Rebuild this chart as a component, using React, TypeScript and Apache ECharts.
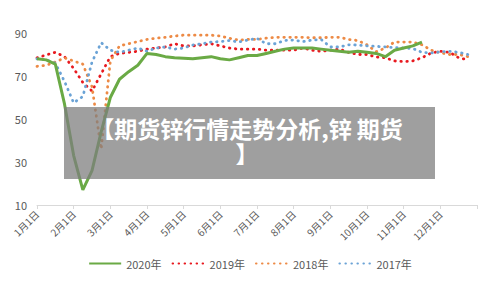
import React, { useEffect, useRef } from "react";
import * as echarts from "echarts";

const categories = [
  "1月1日", "1月8日", "1月16日", "1月24日",
  "2月1日", "2月8日", "2月16日", "2月24日",
  "3月1日", "3月8日", "3月16日", "3月24日",
  "4月1日", "4月8日", "4月16日", "4月24日",
  "5月1日", "5月8日", "5月16日", "5月24日",
  "6月1日", "6月8日", "6月16日", "6月24日",
  "7月1日", "7月8日", "7月16日", "7月24日",
  "8月1日", "8月8日", "8月16日", "8月24日",
  "9月1日", "9月8日", "9月16日", "9月24日",
  "10月1日", "10月8日", "10月16日", "10月24日",
  "11月1日", "11月8日", "11月16日", "11月24日",
  "12月1日", "12月8日", "12月16日", "12月24日",
  "1月1日 ",
];

const s2020 = [78, 77.5, 75.5, 57, 33, 17, 26, 44, 60, 68.5, 72, 75, 80.5, 80, 79, 78.5, 78.3, 78, 78.5, 79, 78, 77.5, 78.5, 79.5, 79.5, 80.5, 81.5, 82.5, 83, 83, 83, 82.5, 82, 81.5, 81, 81.5, 81, 80.5, 79, 82, 83, 84, 85.8];
const s2019 = [78.5, 79.8, 81, 79, 73.5, 67, 63, 71, 79, 80.5, 81, 81.5, 82.5, 83, 83.5, 85, 84, 84, 84.5, 85, 84, 83, 82.5, 82.5, 82.5, 82, 82, 82, 82, 83, 82, 81.5, 82, 82.5, 81, 80, 80, 78.8, 78.5, 77, 76.7, 77, 78.5, 80.7, 81.5, 81, 78.5, 77.5];
const s2018 = [74.5, 75, 76.5, 78.4, 77, 75.5, 65, 36, 77, 84, 85, 86, 87, 87.6, 88, 88.6, 89, 89, 89, 89, 88.6, 87.5, 86.7, 87, 87, 87.6, 88, 88, 88, 88, 87.8, 87.8, 88, 88, 87, 86.5, 84.5, 81.3, 83, 85.8, 85.8, 85.8, 84.5, 82, 80.8, 80, 80, 79];
const s2017 = [78, 77.5, 76, 67.5, 57.5, 60.5, 76.5, 85.5, 82, 81, 82, 83, 81.5, 83, 83.5, 82.5, 83, 84.4, 85, 85.8, 86, 86.5, 85.8, 86.7, 87.5, 85, 85, 86.5, 86.7, 86, 86.7, 87, 83.5, 83.5, 84.5, 84.4, 84, 83.8, 83.5, 83.2, 83, 82.8, 81, 80.7, 81.2, 81.5, 81, 80];

const seriesNames = ["2020年", "2019年", "2018年", "2017年"];
const seriesColors = ["#6aaa45", "#e8191f", "#ed8a45", "#6ba3d6"];
const titleText = "【期货锌行情走势分析,锌 期货\n】";

const FONT = "'Noto Sans CJK SC', 'Noto Sans', sans-serif";

export default function App() {
  const ref = useRef<HTMLDivElement>(null);
  useEffect(() => {
    if (!ref.current) return;
    const chart = echarts.init(ref.current, undefined, { renderer: "svg" });
    const dotted = (color: string) => ({
      color,
      width: 2.8,
      type: [0.5, 5.5] as any,
      cap: "round" as const,
    });
    const datas = [s2020, s2019, s2018, s2017];
    chart.setOption({
      animation: false,
      textStyle: { fontFamily: FONT },
      grid: { left: 37, right: 23, top: 33, bottom: 81, containLabel: false },
      legend: {
        data: seriesNames,
        bottom: 12,
        left: "center",
        itemWidth: 32,
        itemHeight: 10,
        itemGap: 10,
        itemStyle: { opacity: 0 },
        textStyle: { color: "#595959", fontSize: 11, fontFamily: FONT },
      },
      xAxis: {
        type: "category",
        data: categories,
        boundaryGap: false,
        axisLine: { lineStyle: { color: "#d9d9d9", width: 1 } },
        axisTick: {
          show: true,
          interval: (i: number) => i % 4 === 0,
          length: 4,
          lineStyle: { color: "#d9d9d9" },
        },
        axisLabel: {
          interval: (i: number) => i % 4 === 0 && i < 48,
          rotate: 45,
          color: "#595959",
          fontSize: 10,
          margin: 7,
          fontFamily: FONT,
        },
        splitLine: { show: false },
      },
      yAxis: {
        type: "value",
        min: 10,
        max: 90,
        interval: 20,
        axisLine: { show: false },
        axisTick: { show: false },
        splitLine: { show: false },
        axisLabel: { color: "#595959", fontSize: 11, margin: 10, fontFamily: FONT },
      },
      series: datas.map((d, k) => ({
        name: seriesNames[k],
        type: "line",
        data: d,
        symbol: "none",
        smooth: false,
        color: seriesColors[k],
        lineStyle: k === 0 ? { color: seriesColors[0], width: 3 } : dotted(seriesColors[k]),
        z: k === 0 ? 5 : 2,
      })),
      graphic: [
        {
          type: "rect",
          z: 100,
          shape: { x: 64, y: 107, width: 371, height: 72 },
          style: { fill: "rgba(125,125,125,0.74)" },
        },
        {
          type: "text",
          z: 101,
          x: 247,
          y: 140.5,
          style: {
            text: titleText,
            fill: "#ffffff",
            font: `bold 23px ${FONT}`,
            lineHeight: 25,
            align: "center",
            verticalAlign: "middle",
          },
        },
      ],
    });
    return () => chart.dispose();
  }, []);
  return (
    <div
      ref={ref}
      style={{ position: "fixed", left: 0, top: 0, width: 500, height: 286, background: "#fff" }}
    />
  );
}
